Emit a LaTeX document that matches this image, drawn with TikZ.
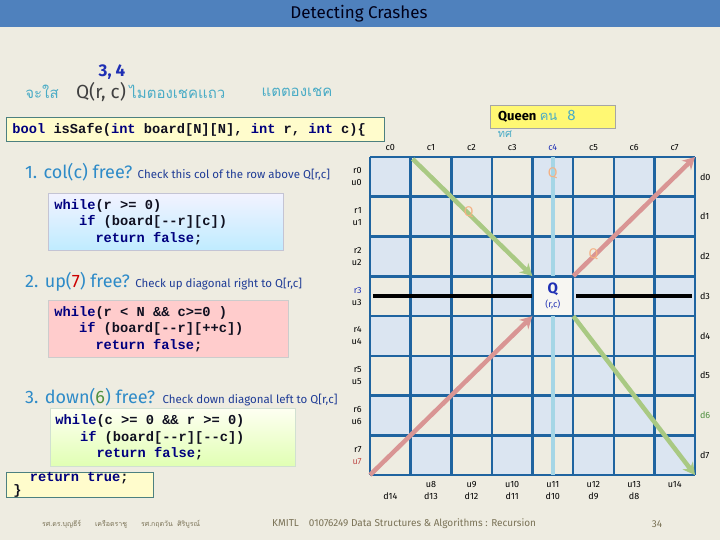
\documentclass[tikz,border=0pt]{standalone}
\usepackage{fontspec}
\setmainfont{Fira Sans}
\setmonofont{Liberation Mono}
\newfontfamily\thaifont[Script=Thai]{Loma}
\usetikzlibrary{arrows.meta,positioning}
\definecolor{paper}{HTML}{EEECE1}
\definecolor{bar}{HTML}{4F81BD}
\definecolor{cellblue}{HTML}{DBE5F1}
\definecolor{gridblue}{HTML}{1F64A0}
\definecolor{headblue}{HTML}{2E8BC8}
\definecolor{noteblue}{HTML}{1F3C96}
\definecolor{thaiteal}{HTML}{4BACC6}
\definecolor{kwblue}{HTML}{00007F}
\definecolor{codeink}{HTML}{101020}
\definecolor{diagred}{HTML}{D99594}
\definecolor{diaggreen}{HTML}{A9C983}
\definecolor{colblue}{HTML}{A5D6E6}
\definecolor{qorange}{HTML}{F4B183}
\definecolor{qblue}{HTML}{1F2FB4}
\definecolor{foot}{HTML}{7A7256}
\definecolor{lowred}{HTML}{C0504D}
\definecolor{lowgreen}{HTML}{4F8F3F}
\newcommand\kw[1]{\textcolor{kwblue}{#1}}
\newcommand\spc{\hspace*{.6em}}

\begin{document}
\begin{tikzpicture}[x=1pt,y=-1pt,every node/.style={inner sep=0pt},
  codebox/.style={draw=#1,line width=0.8pt,anchor=north west,align=left,inner xsep=6pt,text=codeink,font=\ttfamily\bfseries\fontsize{13.7}{16.5}\selectfont},
  head/.style={anchor=west,text=headblue,font=\fontsize{18}{20}\selectfont},
  note/.style={text=noteblue,font=\fontsize{11.5}{14}\selectfont},
  thai/.style={text=thaiteal,font=\thaifont\fontsize{15}{18}\selectfont},
  lbl/.style={font=\fontsize{9}{12}\selectfont,align=center},
  qmark/.style={text=qorange,font=\fontsize{14}{14}\selectfont},
  diag/.style={line width=4.5pt,-{Stealth[length=12pt,width=13pt]}}]
\fill[paper] (0,0) rectangle (720,540);
\useasboundingbox (0,0) rectangle (720,540);
\fill[bar] (0,0) rectangle (720,27);
\node[font=\fontsize{17}{20}\selectfont,text=black!90!blue] (title) at (359,14) {Detecting Crashes};

\node[text=qblue,font=\bfseries\fontsize{17}{18}\selectfont] (rc) at (112,72) {3, 4};
\node[thai] (put) at (42,92) {จะใส};
\node[font=\fontsize{19}{22}\selectfont,text=black!75] (qrc) at (101,92) {Q(r, c)};
\node[thai,right=3pt of qrc] (norow) {ไมตองเชคแถว};
\node[thai] (but) at (297,92) {แตตองเชค};

\node[codebox=gray!60!teal,fill=yellow!20,text width=366pt,minimum height=24pt,inner xsep=6pt] (sig) at (6,117)
  {\kw{bool}\spc isSafe(\kw{int}\spc board[N][N],\spc\kw{int}\spc r,\spc\kw{int}\spc c)\{};

\node[head] (h1) at (25,172) {1. col(c) free?};
\node[note,right=5pt of h1.base east,anchor=base west] (n1) {Check this col of the row above Q[r,c]};
\node[codebox=blue!15!gray!40,top color=blue!5,bottom color=blue!30!cyan!25,text width=223pt,minimum height=57pt] (w1) at (48,193)
  {\kw{while}(r\spc>=\spc0)\\
   \phantom{xxx}\kw{if}\spc(board[-{}-r][c])\\
   \phantom{xxxxx}\kw{return}\spc\kw{false};};

\node[head] (h2) at (25,282) {2. up(\textcolor{red!80!black}{7}) free?};
\node[note,right=5pt of h2.base east,anchor=base west] (n2) {Check up diagonal right to Q[r,c]};
\node[codebox=gray!40,fill=red!20,text width=228pt,minimum height=57pt] (w2) at (48,300)
  {\kw{while}(r\spc<\spc N\spc\&\&\spc c>=0\spc)\\
   \phantom{xxx}\kw{if}\spc(board[-{}-r][++c])\\
   \phantom{xxxxx}\kw{return}\spc\kw{false};};

\node[head] (h3) at (25,397) {3. down(\textcolor{lowgreen}{6}) free?};
\node[note,right=7pt of h3.base east,anchor=base west] (n3) {Check down diagonal left to Q[r,c]};
\node[codebox=green!20!gray!30,top color=green!5!yellow!5,bottom color=green!40!yellow!30,text width=235pt,minimum height=58pt,inner xsep=5pt] (w3) at (50,408)
  {\kw{while}(c\spc>=\spc0\spc\&\&\spc r\spc>=\spc0)\\
   \phantom{xxx}\kw{if}\spc(board[-{}-r][-{}-c])\\
   \phantom{xxxxx}\kw{return}\spc\kw{false};};

\node[codebox=gray!60!teal,fill=yellow!20,text width=133pt,minimum height=25pt,inner xsep=7pt,font=\ttfamily\bfseries\fontsize{13.7}{11}\selectfont] (ret) at (6,472)
  {\phantom{xx}\kw{return}\spc\kw{true};\\\}};

\node[draw=gray!70,fill=yellow!55,anchor=north west,text width=109pt,minimum height=23pt,inner xsep=8pt,align=left] (queen) at (490,105)
  {\textbf{\fontsize{13}{15}\selectfont Queen} {\thaifont\textcolor{thaiteal}{\fontsize{13}{15}\selectfont คน}}\quad\textcolor{thaiteal}{\fontsize{15}{15}\selectfont 8}};
\node[thai,font=\thaifont\fontsize{11}{11}\selectfont] (dir) at (505,134) {ทศ};

\node[text=foot,font=\thaifont\fontsize{7}{8}\selectfont,anchor=west] (names) at (42,524) {รศ.ดร.บุญธีร์\qquad เครือตราชู\qquad รศ.กฤตวัน\; ศิริบูรณ์};
\node[text=foot,font=\fontsize{10}{12}\selectfont,anchor=west] (course) at (272,524) {KMITL\quad 01076249 Data Structures \& Algorithms : Recursion};
\node[text=foot,font=\fontsize{10}{12}\selectfont] (page) at (657,524) {34};

\begin{scope}[shift={(370,157)},x=40.625pt,y=-39.75pt]
\foreach \r in {0,...,7}
  \foreach \c in {0,...,7}{
    \pgfmathtruncatemacro\k{mod(\r+\c,2)}
    \ifnum\k=0 \fill[cellblue] (\c,\r) rectangle ++(1,1); \fi
  }
\node[minimum width=40.625pt,minimum height=39.75pt,fill=white!55!paper,align=center,text=qblue] (q) at (4.5,3.5)
  {{\bfseries\fontsize{15}{15}\selectfont Q}\\[2pt]{\fontsize{9}{9}\selectfont (r,c)}};
\foreach \i in {0,...,8}
  \draw[gridblue,line width=2.5pt] (\i,0) -- (\i,8) (0,\i) -- (8,\i);

\foreach \c/\ink in {0/black,1/black,2/black,3/black,4/qblue,5/black,6/black,7/black}
  \node[lbl,text=\ink] (col\c) at (\c+.5,-.25) {c\c};
\foreach \r/\ra/\ua in {0/black/black,1/black/black,2/black/black,3/qblue/black,4/black/black,5/black/black,6/black/black,7/black/lowred}
  \node[lbl,align=right,anchor=east] (row\r) at (-.2,\r+.5) {\textcolor{\ra}{r\r}\\\textcolor{\ua}{u\r}};
\foreach \r/\ink in {0/black,1/black,2/black,3/black,4/black,5/black,6/lowgreen,7/black}
  \node[lbl,anchor=west,text=\ink] (dia\r) at (8.12,\r+.5) {d\r};
\foreach \c in {1,...,7}{
  \pgfmathtruncatemacro\u{\c+7}
  \node[lbl] (up\c) at (\c+.5,8.23) {u\u};
}
\foreach \c in {0,...,6}{
  \pgfmathtruncatemacro\d{14-\c}
  \node[lbl] (down\c) at (\c+.5,8.53) {d\d};
}

\coordinate (gs) at (1.05,0.05);
\coordinate (ge) at (8,8);
\coordinate (rs) at (0,8);
\coordinate (re) at (8,0);
\coordinate (vt) at (4.5,0);
\coordinate (vb) at (4.5,8);
\coordinate (hl) at (.07,3.5);
\coordinate (hr) at (7.93,3.5);
\draw[colblue,line width=4pt] (vt) -- (q.north) (q.south) -- (vb);
\draw[line width=4pt] (hl) -- (q.west) ([xshift=3pt]q.east) -- (hr);
\draw[diag,diaggreen] (gs) -- (q.north west);
\draw[diag,diaggreen] (q.south east) -- (ge);
\draw[diag,diagred] (rs) -- (q.south west);
\draw[diag,diagred] (q.north east) -- (re);

\node[qmark] (q1) at (4.5,.4) {Q};
\node[qmark] (q2) at (2.43,1.38) {Q};
\node[qmark] (q3) at (5.5,2.45) {Q};
\end{scope}
\end{tikzpicture}
\end{document}
